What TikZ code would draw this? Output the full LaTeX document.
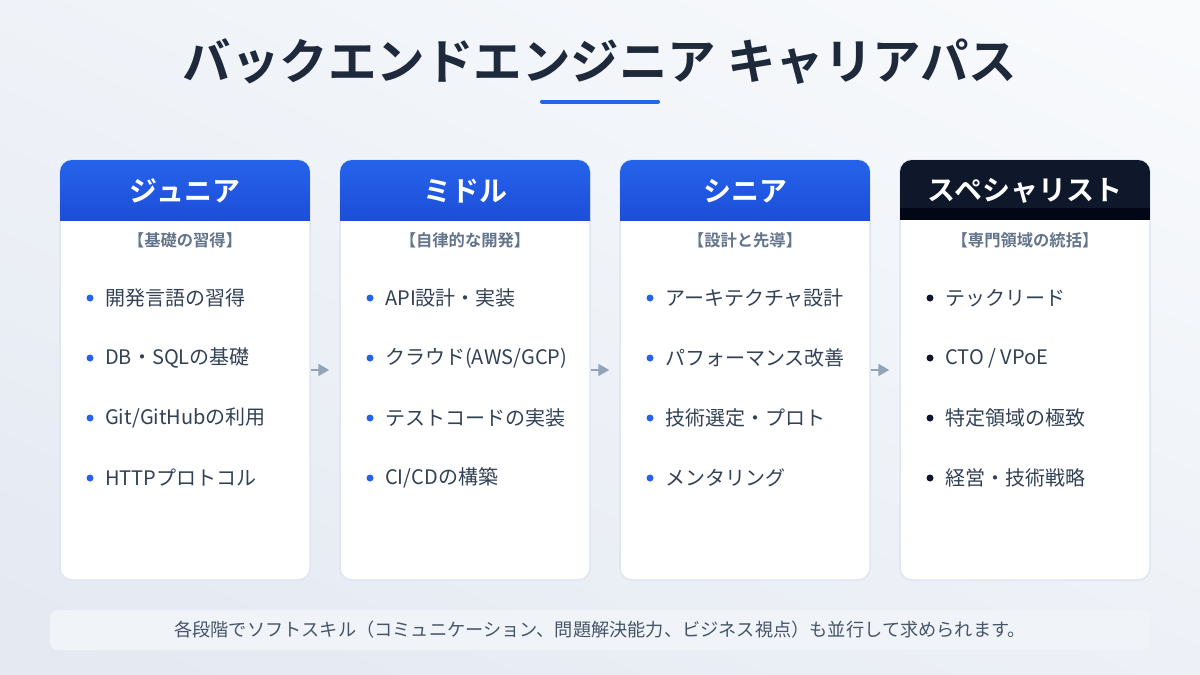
\documentclass[tikz,border=0pt]{standalone}
\usepackage{fontspec}
\setmainfont{Noto Sans CJK JP}[BoldFont={Noto Sans CJK JP Bold}]
\usetikzlibrary{arrows.meta}
\definecolor{bgA}{HTML}{F8FAFC}
\definecolor{bgB}{HTML}{E4E9F2}
\definecolor{titlec}{HTML}{1E293B}
\definecolor{blueA}{HTML}{2563EB}
\definecolor{blueB}{HTML}{1D4ED8}
\definecolor{darkA}{HTML}{0F172A}
\definecolor{darkB}{HTML}{020617}
\definecolor{cardline}{HTML}{DFE6EF}
\definecolor{subc}{HTML}{64748B}
\definecolor{itemc}{HTML}{334155}
\definecolor{arrowc}{HTML}{94A3B8}
\definecolor{barc}{HTML}{F0F3F8}
\definecolor{notec}{HTML}{475569}
\tikzset{
  card/.style={draw=cardline, line width=1.5pt, fill=white, rounded corners=12pt,
    minimum width=250pt, minimum height=420pt, inner sep=0pt},
  headtext/.style={text=white, font=\bfseries\fontsize{28}{30}\selectfont},
  subtext/.style={text=subc, font=\bfseries\fontsize{16.3}{18}\selectfont},
  itemtext/.style={text=itemc, anchor=west, inner sep=0pt, font=\fontsize{20}{22}\selectfont},
  dotb/.style={circle, fill=blueA, inner sep=0pt, minimum size=7pt},
  dotk/.style={circle, fill=darkA, inner sep=0pt, minimum size=7pt},
  flow/.style={draw=arrowc, line width=2pt, -{Triangle[length=11pt,width=12pt]}, shorten >=10pt}
}
\begin{document}
\begin{tikzpicture}[x=1pt,y=-1pt]
\useasboundingbox (0,0) rectangle (1200,675);
\shade[top color=bgA, bottom color=bgB, shading angle=-25] (-100,-100) rectangle (1300,775);
% title
\node[text=titlec, font=\bfseries\fontsize{48.5}{52}\selectfont] (title) at (600,62) {バックエンドエンジニア キャリアパス};
\draw[blueA, line width=4pt, line cap=round] (542,101.5) -- (658,101.5);
% cards
\foreach \i/\cx in {1/185,2/465,3/745,4/1025}{
  \node[card] (c\i) at (\cx,370) {};
}
% headers
\foreach \i/\cx in {1/185,2/465,3/745}{
  \begin{scope}
    \clip[rounded corners=12pt] (\cx-125,160) rectangle (\cx+125,580);
    \shade[top color=blueA, bottom color=blueB] (\cx-126,159) rectangle (\cx+126,220);
  \end{scope}
}
\begin{scope}
  \clip[rounded corners=12pt] (900,160) rectangle (1150,580);
  \fill[darkA] (899,159) rectangle (1151,220);
  \fill[darkB] (899,208) rectangle (1151,220);
\end{scope}
\node[headtext] (h1) at (185,191) {ジュニア};
\node[headtext] (h2) at (465,191) {ミドル};
\node[headtext] (h3) at (745,191) {シニア};
\node[headtext] (h4) at (1025,191) {スペシャリスト};
\node[subtext] (s1) at (185,240) {【基礎の習得】};
\node[subtext] (s2) at (465,240) {【自律的な開発】};
\node[subtext] (s3) at (745,240) {【設計と先導】};
\node[subtext] (s4) at (1025,240) {【専門領域の統括】};
% items
\foreach \cx/\k/\a/\b/\c/\d in {
  60/b/開発言語の習得/DB・SQLの基礎/Git\slash GitHubの利用/HTTPプロトコル,
  340/b/API設計・実装/クラウド(AWS\slash GCP)/テストコードの実装/CI\slash CDの構築,
  620/b/アーキテクチャ設計/パフォーマンス改善/技術選定・プロト/メンタリング,
  900/k/テックリード/CTO \slash{} VPoE/特定領域の極致/経営・技術戦略}{
  \node[dot\k] (d\cx a) at (\cx+30,298) {};
  \node[itemtext] (t\cx a) at (\cx+45,298) {\a};
  \node[dot\k] (d\cx b) at (\cx+30,358) {};
  \node[itemtext] (t\cx b) at (\cx+45,358) {\b};
  \node[dot\k] (d\cx c) at (\cx+30,418) {};
  \node[itemtext] (t\cx c) at (\cx+45,418) {\c};
  \node[dot\k] (d\cx d) at (\cx+30,478) {};
  \node[itemtext] (t\cx d) at (\cx+45,478) {\d};
}
% arrows
\coordinate (a1s) at (c1.east |- 0,370);
\coordinate (a1e) at (c2.west |- 0,370);
\coordinate (a2s) at (c2.east |- 0,370);
\coordinate (a2e) at (c3.west |- 0,370);
\coordinate (a3s) at (c3.east |- 0,370);
\coordinate (a3e) at (c4.west |- 0,370);
\draw[flow] (a1s) -- (a1e);
\draw[flow] (a2s) -- (a2e);
\draw[flow] (a3s) -- (a3e);
% note bar
\node[fill=barc, rounded corners=8pt, minimum width=1100pt, minimum height=40pt, inner sep=0pt,
  text=notec, font=\fontsize{18.2}{20}\selectfont] (note) at (600,630)
  {各段階でソフトスキル（コミュニケーション、問題解決能力、ビジネス視点）も並行して求められます。};
\end{tikzpicture}
\end{document}
